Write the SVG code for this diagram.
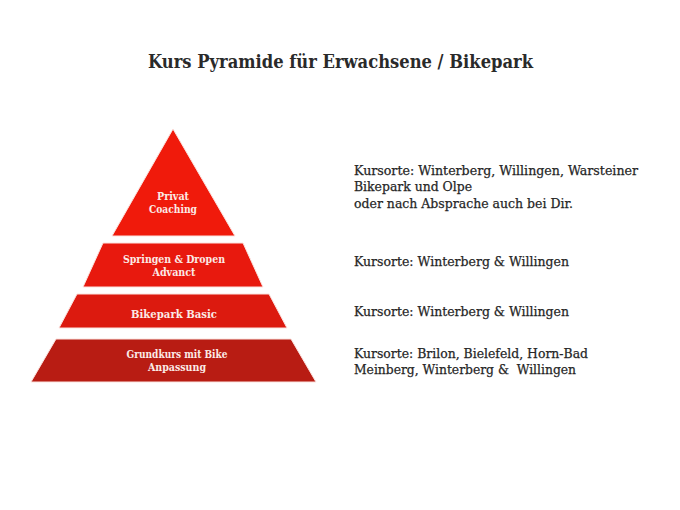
<svg xmlns="http://www.w3.org/2000/svg" width="680" height="510" viewBox="0 0 680 510">
<style>
.tier{stroke:#fbe3df;stroke-width:1}
.lbl{font-family:"DejaVu Serif","Liberation Serif",serif;font-size:10.5px;font-weight:bold;fill:#fbeae6;text-anchor:middle}
.info{font-family:"DejaVu Serif","Liberation Serif",serif;font-size:12.5px;fill:#262626;stroke:#262626;stroke-width:0.25}
.title{font-family:"DejaVu Serif","Liberation Serif",serif;font-size:19px;font-weight:bold;fill:#2a2a2a}
</style>
<rect width="680" height="510" fill="#ffffff"/>
<text class="title" x="148" y="68" textLength="385" lengthAdjust="spacingAndGlyphs">Kurs Pyramide für Erwachsene / Bikepark</text>
<g id="tier1">
<polygon class="tier" points="173,129 235,236 112,236" fill="#f01a0b"/>
<text class="lbl" x="173" y="200" textLength="32" lengthAdjust="spacingAndGlyphs">Privat</text>
<text class="lbl" x="173" y="213" textLength="48" lengthAdjust="spacingAndGlyphs">Coaching</text>
</g>
<g id="tier2">
<polygon class="tier" points="103,243 243,243 263,287 83,287" fill="#e8190e"/>
<text class="lbl" x="174" y="263" textLength="102" lengthAdjust="spacingAndGlyphs">Springen &amp; Dropen</text>
<text class="lbl" x="174" y="276" textLength="43" lengthAdjust="spacingAndGlyphs">Advanct</text>
</g>
<g id="tier3">
<polygon class="tier" points="77,294 269,294 287,328 59,328" fill="#dc1a0f"/>
<text class="lbl" x="174" y="318" font-size="11.5" textLength="86" lengthAdjust="spacingAndGlyphs">Bikepark Basic</text>
</g>
<g id="tier4">
<polygon class="tier" points="56,339 291,339 316,382 31,382" fill="#b81c13"/>
<text class="lbl" x="177" y="358" textLength="101" lengthAdjust="spacingAndGlyphs">Grundkurs mit Bike</text>
<text class="lbl" x="177" y="371" textLength="58" lengthAdjust="spacingAndGlyphs">Anpassung</text>
</g>
<g id="info1">
<text class="info" x="354" y="175" textLength="284" lengthAdjust="spacingAndGlyphs">Kursorte: Winterberg, Willingen, Warsteiner</text>
<text class="info" x="354" y="191" textLength="118" lengthAdjust="spacingAndGlyphs">Bikepark und Olpe</text>
<text class="info" x="354" y="208" textLength="219" lengthAdjust="spacingAndGlyphs">oder nach Absprache auch bei Dir.</text>
</g>
<g id="info2">
<text class="info" x="354" y="266" textLength="215" lengthAdjust="spacingAndGlyphs">Kursorte: Winterberg &amp; Willingen</text>
</g>
<g id="info3">
<text class="info" x="354" y="316" textLength="215" lengthAdjust="spacingAndGlyphs">Kursorte: Winterberg &amp; Willingen</text>
</g>
<g id="info4">
<text class="info" x="354" y="358" textLength="234" lengthAdjust="spacingAndGlyphs">Kursorte: Brilon, Bielefeld, Horn-Bad</text>
<text class="info" x="354" y="374" textLength="222" lengthAdjust="spacingAndGlyphs" xml:space="preserve">Meinberg, Winterberg &amp;  Willingen</text>
</g>
<g id="connectors"/>
</svg>
